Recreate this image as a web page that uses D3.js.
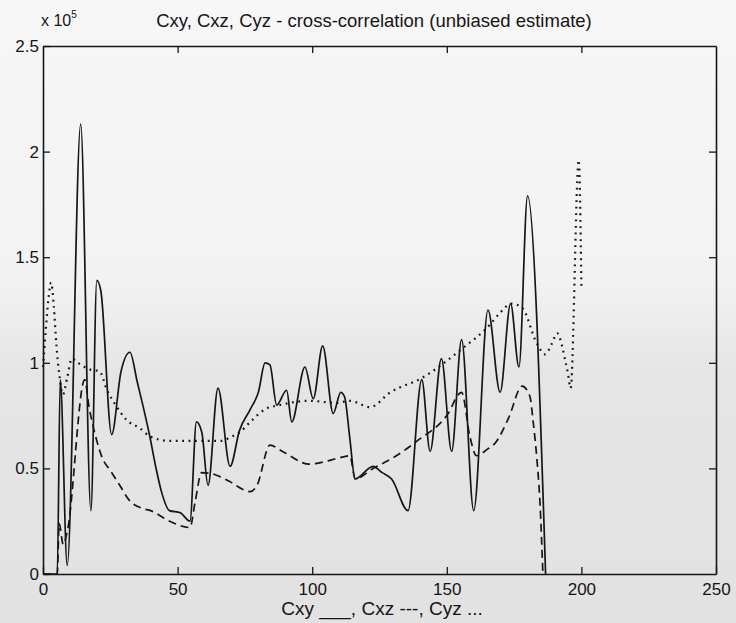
<!DOCTYPE html>
<html>
<head>
<meta charset="utf-8">
<script src="https://cdn.jsdelivr.net/npm/d3@7/dist/d3.min.js"></script>
<style>
  html, body { margin: 0; padding: 0; background: #f2f2f2; }
  svg { display: block; }
  text { font-family: "Liberation Sans", Arial, Helvetica, sans-serif; fill: #151515; }
</style>
</head>
<body>
<svg id="chart" width="736" height="623"></svg>
<script>
// Lags and values (units of 1e5) for the three cross-correlation estimates
const cxyLag = [0, 5.3, 6.4, 9, 14, 17.8, 20, 21.5, 25.5, 29, 32.3, 35, 39.7, 42, 44, 47, 51, 54.6, 57, 59,
  61.3, 65, 69.5, 73, 77, 80, 82.5, 84.3, 86.8, 90.5, 92.4, 97.3, 100.4, 103.9, 107.8, 110.6, 112, 114, 115.9, 122.6,
  126, 129.5, 135.6, 140.7, 143.8, 148, 151.8, 155.5, 160, 165.3, 169.8, 173.7, 176.8, 180, 186.7];
const cxyVal = [0, 0, 0.92, 0.04, 2.13, 0.30, 1.39, 1.34, 0.66, 0.96, 1.05, 0.91, 0.65, 0.50, 0.39, 0.30, 0.29, 0.25, 0.72, 0.67,
  0.42, 0.88, 0.51, 0.68, 0.78, 0.86, 1.00, 0.99, 0.80, 0.87, 0.72, 0.98, 0.83, 1.08, 0.76, 0.86, 0.84, 0.64, 0.45, 0.51,
  0.48, 0.45, 0.30, 0.92, 0.58, 1.02, 0.58, 1.11, 0.30, 1.25, 0.86, 1.28, 0.98, 1.79, 0];

const cxzLag = [0, 5.3, 6, 7.5, 9, 15.5, 17, 20, 22, 25, 28.5, 32, 37, 40, 47, 54.6, 56.5, 58.9, 64, 69,
  77, 79.5, 84.3, 89, 99, 104, 110, 114, 116, 122.6, 130, 139, 150, 155.5, 158.6, 161, 165, 168, 173, 178,
  180.9, 182, 183.5, 184.6, 185.7];
const cxzVal = [0, 0, 0.24, 0.14, 0.20, 0.92, 0.80, 0.63, 0.55, 0.49, 0.42, 0.35, 0.31, 0.30, 0.25, 0.22, 0.34, 0.48, 0.47, 0.44,
  0.39, 0.42, 0.61, 0.58, 0.52, 0.53, 0.55, 0.56, 0.45, 0.50, 0.55, 0.63, 0.75, 0.86, 0.65, 0.56, 0.59, 0.62, 0.74, 0.89,
  0.84, 0.73, 0.54, 0.34, 0];

const cyzLag = [0, 1, 2, 3, 4, 5, 6, 7.4, 9, 10.7, 13, 17, 21, 23.8, 27, 31, 36, 40, 47, 58,
  66, 70, 73, 77, 82.5, 88, 99, 109, 114, 121.5, 129, 141, 155, 166, 170, 174, 178, 183.5, 186.5, 189,
  191, 193, 194, 195, 196, 199, 200];
const cyzVal = [0.98, 1.15, 1.30, 1.38, 1.27, 1.08, 0.95, 0.85, 0.93, 1.02, 1.00, 0.97, 0.96, 0.87, 0.80, 0.73, 0.69, 0.65, 0.63, 0.63,
  0.63, 0.65, 0.67, 0.72, 0.78, 0.80, 0.82, 0.81, 0.82, 0.79, 0.86, 0.93, 1.06, 1.18, 1.24, 1.28, 1.26, 1.09, 1.04, 1.09,
  1.14, 1.07, 1.01, 0.95, 0.88, 1.96, 1.36];

const xTicks = [0, 50, 100, 150, 200, 250];
const yTicks = [0, 0.5, 1, 1.5, 2, 2.5];
const yTickLabels = ["0", "0.5", "1", "1.5", "2", "2.5"];

const W = 736, H = 623;
const m = { left: 43, right: 20, top: 46, bottom: 49 };
const svg = d3.select("#chart");

// scanned-paper background: light above, greyer lower half
const defs = svg.append("defs");
const grad = defs.append("linearGradient").attr("id", "paper").attr("x1", 0).attr("y1", 0).attr("x2", 0).attr("y2", 1);
[[0, "#f7f7f7"], [0.45, "#f2f2f2"], [0.6, "#e5e5e5"], [1, "#e2e2e2"]]
  .forEach(([o, c]) => grad.append("stop").attr("offset", o).attr("stop-color", c));
svg.append("rect").attr("width", W).attr("height", H).attr("fill", "url(#paper)");

const x = d3.scaleLinear().domain([0, 250]).range([m.left, W - m.right]);
const y = d3.scaleLinear().domain([0, 2.5]).range([H - m.bottom, m.top]);

const ink = "#161616";
const tick = 7;

// axes: ticks pointing inward on all four sides
const gB = svg.append("g").attr("transform", `translate(0,${H - m.bottom})`)
  .call(d3.axisBottom(x).tickValues(xTicks).tickSizeInner(-tick).tickSizeOuter(0).tickPadding(9).tickFormat(d3.format("d")));
const gT = svg.append("g").attr("transform", `translate(0,${m.top})`)
  .call(d3.axisTop(x).tickValues(xTicks).tickSizeInner(-tick).tickSizeOuter(0).tickFormat(""));
const gL = svg.append("g").attr("transform", `translate(${m.left},0)`)
  .call(d3.axisLeft(y).tickValues(yTicks).tickSizeInner(-tick).tickSizeOuter(0).tickPadding(4)
    .tickFormat((d, i) => yTickLabels[i]));
const gR = svg.append("g").attr("transform", `translate(${W - m.right},0)`)
  .call(d3.axisRight(y).tickValues(yTicks).tickSizeInner(-tick).tickSizeOuter(0).tickFormat(""));

[gB, gT, gL, gR].forEach(g => {
  g.selectAll("path.domain").attr("stroke", ink).attr("stroke-width", 1.6);
  g.selectAll(".tick line").attr("stroke", ink).attr("stroke-width", 1.3);
  g.selectAll(".tick text").attr("fill", ink).style("font-size", "17px")
    .style("font-family", "'Liberation Sans', Arial, sans-serif");
});
// drop the end ticks that sit on the frame corners
gT.selectAll(".tick").filter(d => d === 0 || d === 250).select("line").remove();
gR.selectAll(".tick").filter(d => d === 0 || d === 2.5).select("line").remove();

// series lines
const line = d3.line().x(d => x(d[0])).y(d => y(d[1])).curve(d3.curveMonotoneX);
const series = [
  { lag: cxyLag, val: cxyVal, dash: null, w: 1.7 },
  { lag: cxzLag, val: cxzVal, dash: "8,5", w: 1.7 },
  { lag: cyzLag, val: cyzVal, dash: "1.8,4.6", w: 2.2 }
];
series.forEach(s => {
  svg.append("path")
    .datum(d3.zip(s.lag, s.val))
    .attr("d", line)
    .attr("fill", "none")
    .attr("stroke", ink)
    .attr("stroke-width", s.w)
    .attr("stroke-linejoin", "round")
    .attr("stroke-dasharray", s.dash);
});

// title, exponent marker and x label
svg.append("text").attr("x", 374).attr("y", 27).attr("text-anchor", "middle")
  .style("font-size", "18.5px").text("Cxy, Cxz, Cyz - cross-correlation (unbiased estimate)");
const ex = svg.append("text").attr("x", 41).attr("y", 26).style("font-size", "16px");
ex.append("tspan").text("x 10");
ex.append("tspan").attr("dy", -8).style("font-size", "10px").text("5");
svg.append("text").attr("x", 382).attr("y", 615).attr("text-anchor", "middle")
  .style("font-size", "19px").text("Cxy ___, Cxz ---, Cyz ...");
</script>
</body>
</html>
